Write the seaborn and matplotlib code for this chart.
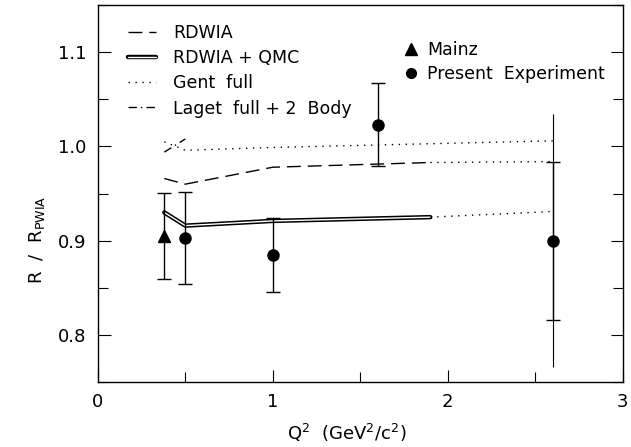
import numpy as np
import pandas as pd
import seaborn as sns
import matplotlib.pyplot as plt
import matplotlib.patheffects as pe
from matplotlib.lines import Line2D
from matplotlib.ticker import MultipleLocator

# theory curves (Q^2 in GeV^2/c^2, R/R_PWIA)
rdwia_q2 = [0.38, 0.5, 1.0, 1.9]
rdwia_r = [0.966, 0.960, 0.978, 0.983]
rdwia_ext_q2 = [1.9, 2.6]
rdwia_ext_r = [0.983, 0.984]

qmc_q2 = [0.38, 0.5, 1.0, 1.9]
qmc_r = [0.930, 0.916, 0.921, 0.925]
qmc_ext_q2 = [1.9, 2.6]
qmc_ext_r = [0.925, 0.931]

gent_q2 = [0.38, 0.5, 1.0, 2.6]
gent_r = [1.005, 0.996, 0.999, 1.006]

laget_q2 = [0.38, 0.5]
laget_r = [0.994, 1.008]

# data
mainz_q2 = [0.38]
mainz_r = [0.905]
mainz_err = [0.046]

exp_q2 = [0.5, 1.0, 1.6, 2.6]
exp_r = [0.903, 0.885, 1.023, 0.900]
exp_err = [0.049, 0.039, 0.044, 0.084]
exp_sys_q2 = [2.6]
exp_sys_r = [0.900]
exp_sys_err = [0.134]

sns.set_style('ticks')
plt.rcParams['font.family'] = ['DejaVu Sans']
plt.rcParams['mathtext.default'] = 'regular'
for k in ['text.color', 'axes.labelcolor', 'xtick.color', 'ytick.color', 'axes.edgecolor']:
    plt.rcParams[k] = 'black'

fig = plt.figure(figsize=(6.31, 4.47), dpi=100)
ax = fig.add_axes([0.155, 0.1454, 0.832, 0.843])

sns.lineplot(x=rdwia_q2, y=rdwia_r, ax=ax, color='black', lw=1.0,
             linestyle=(0, (10, 5)), label='RDWIA')
sns.lineplot(x=qmc_q2, y=qmc_r, ax=ax, color='white', lw=1.0,
             path_effects=[pe.Stroke(linewidth=3.2, foreground='black'), pe.Normal()],
             label='RDWIA + QMC')
sns.lineplot(x=gent_q2, y=gent_r, ax=ax, color='black', lw=1.0,
             linestyle=(0, (1, 4)), label='Gent  full')
sns.lineplot(x=laget_q2, y=laget_r, ax=ax, color='black', lw=1.0,
             linestyle=(0, (6, 3, 1, 3)), label='Laget  full + 2  Body')
sns.lineplot(x=rdwia_ext_q2, y=rdwia_ext_r, ax=ax, color='black', lw=1.0,
             linestyle=(0, (1, 4)))
sns.lineplot(x=qmc_ext_q2, y=qmc_ext_r, ax=ax, color='black', lw=1.0,
             linestyle=(0, (1, 4)))

leg1 = ax.legend(loc='upper left', bbox_to_anchor=(0.058, 0.951), frameon=False,
                 fontsize=12.5, handlelength=1.6, handletextpad=1.0,
                 labelspacing=0.42, borderpad=0, borderaxespad=0)
ax.add_artist(leg1)

ax.errorbar(exp_sys_q2, exp_sys_r, yerr=exp_sys_err, fmt='none', ecolor='black',
            elinewidth=0.8, capsize=0)
ax.errorbar(mainz_q2, mainz_r, yerr=mainz_err, fmt='^', color='black',
            ms=8, elinewidth=1.0, capsize=5, capthick=1.0)
ax.errorbar(exp_q2, exp_r, yerr=exp_err, fmt='o', color='black',
            ms=8, elinewidth=1.0, capsize=5, capthick=1.0)

h_mz = Line2D([], [], marker='^', color='black', ls='none', ms=8)
h_ex = Line2D([], [], marker='o', color='black', ls='none', ms=7)
ax.legend(handles=[h_mz, h_ex], labels=['Mainz', 'Present  Experiment'],
          loc='upper left', bbox_to_anchor=(0.584, 0.906), frameon=False,
          fontsize=12.5, handlelength=0.8, handletextpad=0.5,
          labelspacing=0.35, borderpad=0, borderaxespad=0)

ax.set_xlim(0, 3)
ax.set_ylim(0.75, 1.15)
ax.xaxis.set_major_locator(MultipleLocator(1))
ax.xaxis.set_minor_locator(MultipleLocator(0.5))
ax.yaxis.set_major_locator(MultipleLocator(0.1))
ax.yaxis.set_minor_locator(MultipleLocator(0.05))
ax.yaxis.set_major_formatter(plt.FormatStrFormatter('%.1f'))
ax.set_yticks([0.8, 0.9, 1.0, 1.1])
ax.tick_params(which='both', direction='in', top=False, right=True,
               labelsize=13, color='black', width=0.8)
ax.tick_params(which='major', length=9, pad=8)
ax.tick_params(which='minor', length=7)
for s in ax.spines.values():
    s.set_linewidth(1.0)
    s.set_color('black')

ax.set_xlabel(r'Q$^2$  (GeV$^2$/c$^2$)', fontsize=13)
ax.set_ylabel(r'R  /  R$_{PWIA}$', fontsize=13)
ax.xaxis.set_label_coords(0.475, -0.105)
ax.yaxis.set_label_coords(-0.096, 0.377)

fig.savefig('out.png', dpi=100)
